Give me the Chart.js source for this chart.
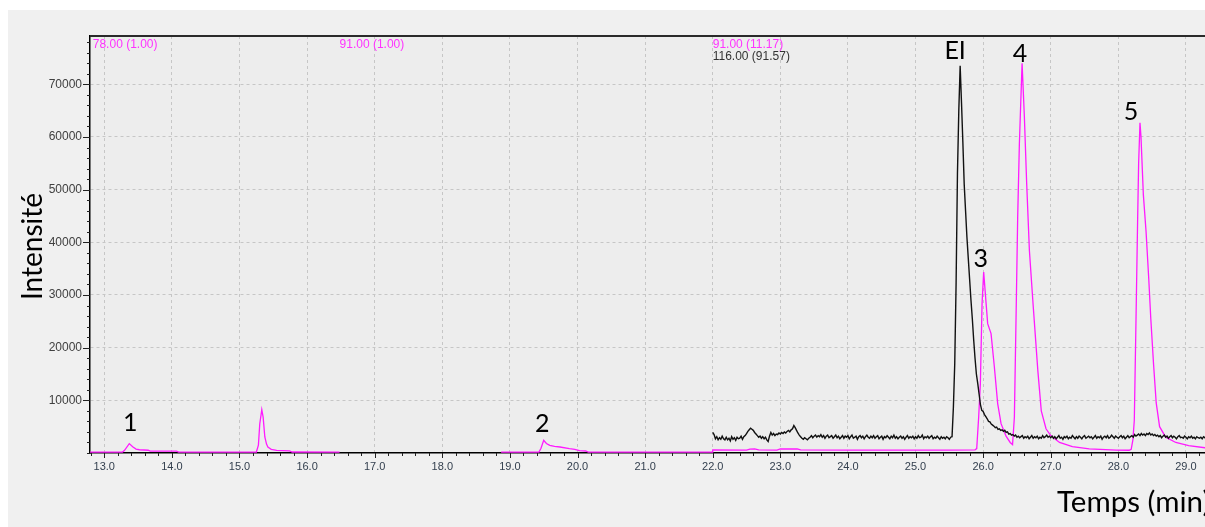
<!DOCTYPE html>
<html lang="fr">
<head>
<meta charset="utf-8">
<title>Chromatogramme</title>
<script src="https://cdn.jsdelivr.net/npm/chart.js@4.4.1/dist/chart.umd.min.js"></script>
<style>
    html, body { margin: 0; padding: 0; background: #ffffff; overflow: hidden; }
    canvas { display: block; }
</style>
</head>
<body>
<!-- the trace runs on past the right edge of the window, as in the acquisition software -->
<canvas id="chromatogram" width="1220" height="527"></canvas>
<script>
// Magenta trace (m/z 78 then 91). null breaks the line between acquisition windows
var magentaTimes = [
    12.79, 13.27, 13.30, 13.37, 13.42, 13.47, 13.52, 13.65, 13.68, 14.07, 14.10,
    15.25, 15.28, 15.30, 15.33, 15.35, 15.375, 15.40, 15.42, 15.47, 15.55, 15.74, 15.78, 16.48,
    16.49,
    18.87, 19.43, 19.46, 19.50, 19.54, 19.59, 19.66, 19.74, 19.88, 19.96, 20.03, 20.12, 20.16, 22.00,
    22.00, 22.50, 22.55, 22.62, 22.68, 22.95, 23.00, 23.25, 23.30, 24.00, 24.50, 25.00, 25.50, 25.88,
    25.905, 25.934, 25.959, 25.984, 26.008, 26.044, 26.067, 26.117, 26.166, 26.215, 26.265, 26.339, 26.40, 26.435,
    26.462, 26.487, 26.511, 26.536, 26.576, 26.61, 26.644, 26.684, 26.74, 26.81, 26.86, 26.93, 27.00, 27.13,
    27.32, 27.57, 27.97, 28.16, 28.19, 28.215, 28.236, 28.261, 28.285, 28.30, 28.32, 28.335, 28.37, 28.41,
    28.45, 28.48, 28.52, 28.56, 28.61, 28.70, 28.85, 29.04, 29.28, 29.50
];
var magentaIntensity = [
    180, 180, 500, 1780, 1200, 750, 620, 520, 370, 350, 180,
    180, 1500, 5500, 8230, 6800, 3040, 1700, 1140, 700, 510, 400, 190, 180,
    null,
    180, 180, 900, 2400, 1800, 1450, 1250, 1140, 820, 700, 450, 380, 180, 170,
    600, 560, 750, 780, 580, 560, 760, 780, 580, 560, 540, 560, 560, 600,
    830, 6840, 13170, 28360, 34370, 28360, 24560, 22660, 16330, 9380, 5570, 3200, 2000, 1600,
    6800, 25800, 44800, 58700, 74000, 63800, 51150, 38500, 28000, 15500, 8000, 4600, 3300, 2000,
    1200, 800, 550, 520, 700, 2500, 6200, 25200, 44180, 55000, 62700, 60000, 49000, 42000,
    33000, 25500, 17000, 9500, 5000, 3000, 2000, 1400, 1000, 900
];

// Black trace (m/z 116), one reading every 0.02 min from 22.00 min
var blackStart = 22.0;
var blackStep = 0.02;
var blackIntensity = [
    3900, 3500, 2700, 3100, 2500, 2900, 2600, 3200, 2700, 2500,
    3000, 2500, 2800, 2300, 3100, 2600, 2900, 2400, 3000, 2700,
    2800, 3200, 2600, 3100, 3300, 3700, 4100, 4400, 4700, 4500,
    4300, 3900, 3600, 3300, 3000, 3200, 2800, 3100, 2700, 3000,
    2500, 2200, 3200, 3900, 3400, 3700, 3300, 3600, 3500, 3800,
    3600, 3900, 3700, 4000, 3800, 4100, 4300, 4000, 4400, 4600,
    5200, 4800, 4300, 3800, 3400, 3100, 2800, 2600, 2900, 2700,
    2500, 2800, 3000, 3300, 2900, 3200, 3400, 3000, 3300, 3100,
    3500, 3000, 3300, 2800, 3200, 3400, 2900, 3100, 3300, 2800,
    3100, 3400, 2900, 3200, 2700, 3000, 3300, 2800, 3200, 3000,
    3300, 2700, 3100, 3400, 2800, 3000, 3200, 2600, 3100, 3300,
    2900, 3200, 2700, 3100, 3400, 3000, 2800, 3200, 2900, 3300,
    2800, 3100, 3300, 2700, 3000, 3200, 2600, 3100, 2900, 3300,
    3000, 2700, 3200, 2900, 3400, 2800, 3100, 2700, 3000, 3200,
    2800, 3100, 2600, 3000, 3300, 2800, 3100, 2900, 3200, 2700,
    3100, 2800, 3300, 2900, 3000, 3400, 2700, 3100, 2900, 3200,
    2800, 3100, 3300, 2700, 3000, 2800, 3200, 2900, 2600, 3100,
    2800, 3000, 2700, 3100, 2900, 2600, 3000, 3100, 8700, 17000,
    32200, 53000, 65000, 73500, 66500, 59000, 51000, 46000, 41000, 37000,
    33000, 29000, 25500, 21500, 18000, 15000, 13200, 11200, 9200, 8100,
    7900, 7300, 6900, 6500, 6000, 5900, 5500, 5300, 5100, 4800,
    4900, 4500, 4600, 4300, 4400, 4100, 4300, 3900, 4000, 3600,
    3700, 3400, 3500, 3200, 3400, 3000, 3200, 2900, 3100, 3300,
    2800, 3100, 2900, 3200, 2700, 3000, 3300, 2800, 3100, 2900,
    3200, 2700, 3000, 2800, 3300, 2900, 3100, 3400, 3000, 3200,
    2900, 3200, 2800, 3100, 2700, 3000, 3300, 2800, 3000, 2600,
    3100, 2900, 3200, 2700, 3000, 2800, 3300, 3000, 2700, 3100,
    2800, 3200, 3000, 2700, 3100, 3300, 2800, 3000, 3200, 2900,
    3100, 2700, 3000, 3300, 2800, 3100, 2900, 3200, 2600, 3000,
    3200, 2900, 3300, 2800, 3000, 3400, 3100, 2800, 3200, 3000,
    2800, 3100, 3300, 2900, 3200, 2700, 3000, 3300, 2900, 3100,
    3300, 3000, 3500, 3200, 3400, 3600, 3300, 3700, 3400, 3600,
    3300, 3700, 3500, 3800, 3400, 3600, 3300, 3500, 3200, 3400,
    3100, 3300, 2900, 3200, 3400, 3000, 3200, 2800, 3100, 3300,
    2900, 3200, 3000, 2700, 3100, 3300, 2900, 3000, 2800, 3200,
    3000, 2700, 3100, 2900, 3200, 2800, 3000, 2700, 3100, 2900,
    2800, 3000, 2700, 3100, 2900, 3200, 2800, 3000, 2700, 3100,
    2900, 3200
];

// Peak names and the apex each one is written over
var peakNames = ['1', '2', 'EI', '3', '4', '5'];
var peakTimes = [13.37, 19.50, 25.66, 26.008, 26.576, 28.32];
var peakIntensity = [1780, 2400, 73500, 34370, 74000, 62700];

// Window headers: ion (ratio) and the time the window opens
var ionLabels = ['78.00 (1.00)', '91.00 (1.00)', '91.00 (11.17)', '116.00 (91.57)'];
var ionTimes = [12.83, 16.48, 22.0, 22.0];

var xMin = 12.789;
var xMax = 29.493;
var yMax = 79170;

var magentaColor = '#ff1aff';
var blackColor = '#111111';

var magentaPoints = magentaTimes.map(function (t, i) {
    return { x: t, y: magentaIntensity[i] };
});
var blackPoints = blackIntensity.map(function (v, i) {
    return { x: blackStart + i * blackStep, y: v };
});

function isWhole(value) {
    return Math.abs(value - Math.round(value)) < 1e-6;
}

function isMajorY(value) {
    return value > 0 && value % 10000 === 0;
}

var chromatogramDecor = {
    id: 'chromatogramDecor',
    beforeDraw: function (chart) {
        var ctx = chart.ctx;
        var area = chart.chartArea;
        ctx.save();
        ctx.fillStyle = '#ffffff';
        ctx.fillRect(0, 0, chart.width, chart.height);
        ctx.fillStyle = '#f0f0f0';
        ctx.fillRect(8, 10, chart.width - 8, chart.height - 10);
        ctx.fillStyle = '#ededed';
        ctx.fillRect(area.left, area.top, area.right - area.left, area.bottom - area.top);
        ctx.restore();
    },
    afterDraw: function (chart) {
        var ctx = chart.ctx;
        var area = chart.chartArea;
        var xScale = chart.scales.x;
        var yScale = chart.scales.y;
        ctx.save();

        // frame line along the top
        ctx.strokeStyle = '#2a2a2a';
        ctx.lineWidth = 2;
        ctx.beginPath();
        ctx.moveTo(area.left, area.top);
        ctx.lineTo(area.right, area.top);
        ctx.stroke();

        // tick marks, long on labelled values
        ctx.strokeStyle = '#222222';
        ctx.lineWidth = 1;
        ctx.beginPath();
        yScale.ticks.forEach(function (tick) {
            var py = Math.round(yScale.getPixelForValue(tick.value)) + 0.5;
            var len = isMajorY(tick.value) ? 7 : 3;
            ctx.moveTo(area.left - len, py);
            ctx.lineTo(area.left, py);
        });
        xScale.ticks.forEach(function (tick) {
            var px = Math.round(xScale.getPixelForValue(tick.value)) + 0.5;
            var len = isWhole(tick.value) ? 5 : 3;
            ctx.moveTo(px, area.bottom);
            ctx.lineTo(px, area.bottom + len);
        });
        ctx.stroke();

        // window headers
        ctx.font = '12px "Liberation Sans", Arial, sans-serif';
        ctx.textAlign = 'left';
        ctx.textBaseline = 'alphabetic';
        ionLabels.forEach(function (text, i) {
            var px = xScale.getPixelForValue(ionTimes[i]);
            var row = i === 3 ? 1 : 0;
            ctx.fillStyle = i === 3 ? '#333333' : '#ff33ff';
            ctx.fillText(text, px, area.top + 12.3 + row * 11.7);
        });

        // peak names over their apex
        var peakOffsets = [[1, -13], [-1.5, -8], [-5, -7], [-3, -5], [-2, -1], [-9, -2.5]];
        ctx.font = '25px Lato, "Open Sans", sans-serif';
        ctx.textAlign = 'center';
        ctx.fillStyle = '#000000';
        peakNames.forEach(function (name, i) {
            var px = xScale.getPixelForValue(peakTimes[i]) + peakOffsets[i][0];
            var py = yScale.getPixelForValue(peakIntensity[i]) + peakOffsets[i][1];
            ctx.fillText(name, px, py);
        });

        // axis titles
        ctx.font = '28px Lato, "Open Sans", sans-serif';
        ctx.save();
        ctx.translate(41.5, 246.5);
        ctx.rotate(-Math.PI / 2);
        ctx.textAlign = 'center';
        ctx.fillText('Intensité', 0, 0);
        ctx.restore();
        ctx.font = '29.5px Lato, "Open Sans", sans-serif';
        ctx.textAlign = 'left';
        ctx.fillText('Temps (min)', 1057, 512);

        ctx.restore();
    }
};

var ctx = document.getElementById('chromatogram').getContext('2d');
var chromatogram = new Chart(ctx, {
    type: 'line',
    data: {
        datasets: [{
            label: '116.00',
            data: blackPoints,
            borderColor: blackColor,
            borderWidth: 1.4,
            pointRadius: 0,
            tension: 0
        },
        {
            label: '78.00 / 91.00',
            data: magentaPoints,
            borderColor: magentaColor,
            borderWidth: 1.3,
            pointRadius: 0,
            tension: 0,
            spanGaps: false
        }]
    },
    options: {
        responsive: false,
        devicePixelRatio: 1,
        animation: false,
        events: [],
        layout: {
            padding: { top: 36, left: 0, right: 0, bottom: 0 }
        },
        plugins: {
            legend: { display: false },
            tooltip: { enabled: false }
        },
        scales: {
            x: {
                type: 'linear',
                min: xMin,
                max: xMax,
                afterBuildTicks: function (scale) {
                    var ticks = [];
                    for (var k = 0; k <= 83; k++) {
                        ticks.push({ value: Math.round((12.8 + k * 0.2) * 10) / 10 });
                    }
                    scale.ticks = ticks;
                },
                afterFit: function (scale) {
                    scale.height = 74;
                },
                ticks: {
                    autoSkip: false,
                    maxRotation: 0,
                    minRotation: 0,
                    padding: 7,
                    color: '#34404f',
                    font: { family: '"Liberation Sans", Arial, sans-serif', size: 11 },
                    callback: function (value) {
                        return isWhole(value) ? value.toFixed(1) : '';
                    }
                },
                grid: {
                    drawTicks: false,
                    lineWidth: 1,
                    color: function (context) {
                        return context.tick && isWhole(context.tick.value) ? '#c6c6c6' : 'rgba(0,0,0,0)';
                    }
                },
                border: {
                    display: true,
                    color: '#000000',
                    width: 1.5,
                    dash: [3, 3]
                }
            },
            y: {
                type: 'linear',
                min: 0,
                max: yMax,
                afterBuildTicks: function (scale) {
                    var ticks = [];
                    for (var v = 0; v <= 78000; v += 2000) {
                        ticks.push({ value: v });
                    }
                    scale.ticks = ticks;
                },
                afterFit: function (scale) {
                    scale.width = 90;
                },
                ticks: {
                    autoSkip: false,
                    padding: 8,
                    color: '#404040',
                    font: { family: '"Liberation Sans", Arial, sans-serif', size: 12 },
                    callback: function (value) {
                        return isMajorY(value) ? String(value) : '';
                    }
                },
                grid: {
                    drawTicks: false,
                    lineWidth: 1,
                    color: function (context) {
                        return context.tick && isMajorY(context.tick.value) ? '#c6c6c6' : 'rgba(0,0,0,0)';
                    }
                },
                border: {
                    display: true,
                    color: '#000000',
                    width: 1.5,
                    dash: [3, 3]
                }
            }
        }
    },
    plugins: [chromatogramDecor]
});
</script>
</body>
</html>
